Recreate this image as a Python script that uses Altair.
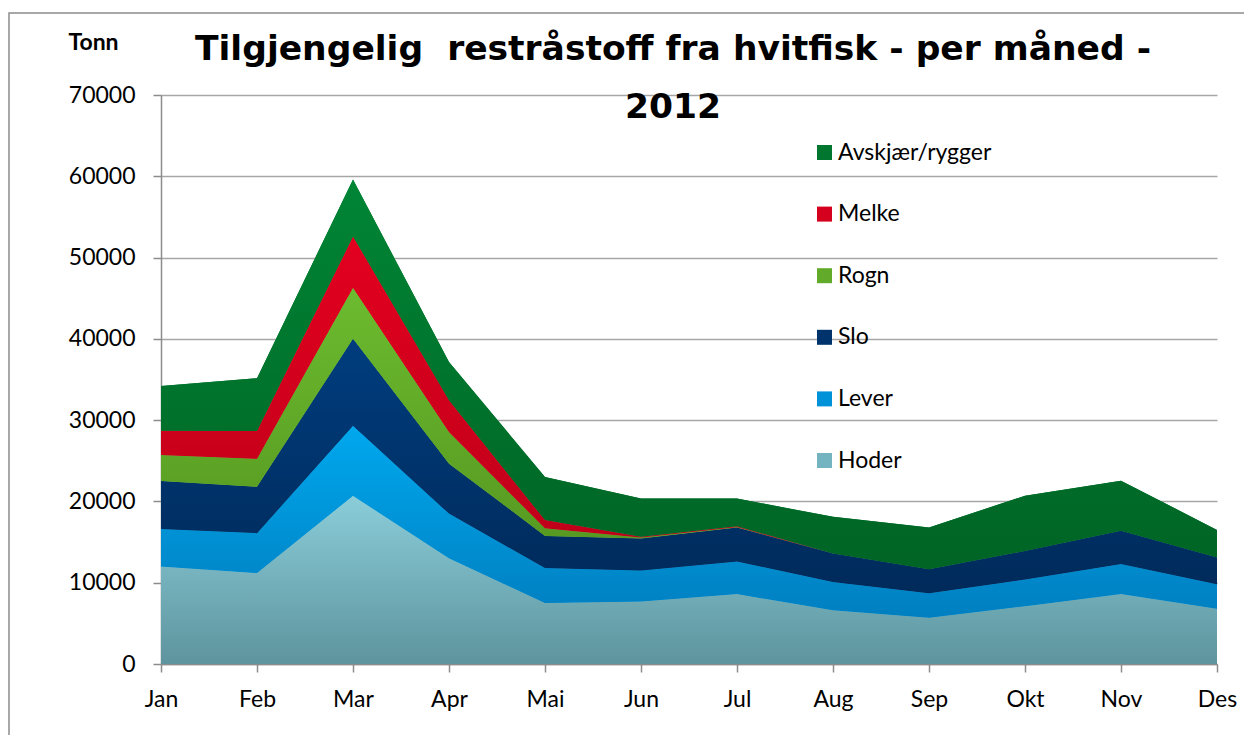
import altair as alt
import pandas as pd

months = ["Jan", "Feb", "Mar", "Apr", "Mai", "Jun", "Jul", "Aug", "Sep", "Okt", "Nov", "Des"]
series = ["Hoder", "Lever", "Slo", "Rogn", "Melke", "Avskjær/rygger"]  # stack order, bottom first
hoder = [12000, 11200, 20700, 13000, 7500, 7700, 8600, 6600, 5700, 7100, 8600, 6800]
lever = [4600, 4900, 8600, 5500, 4300, 3800, 4000, 3500, 3000, 3300, 3700, 3000]
slo = [5900, 5700, 10700, 6150, 3950, 3950, 4200, 3500, 2950, 3500, 4100, 3300]
rogn = [3200, 3450, 6300, 3900, 950, 100, 50, 0, 0, 0, 0, 0]
melke = [3000, 3400, 6300, 3900, 1000, 100, 100, 0, 0, 0, 0, 0]
avsk = [5500, 6500, 7000, 4700, 5300, 4700, 3400, 4500, 5150, 6800, 6150, 3400]
y_ticks = [0, 10000, 20000, 30000, 40000, 50000, 60000, 70000]

values = [hoder, lever, slo, rogn, melke, avsk]
solid = ["#74b3c0", "#0092d8", "#00336b", "#62aa29", "#d4001d", "#00762e"]
grad = [("#8acdd9", "#5e949e"), ("#00a8ee", "#007fc0"), ("#003d7e", "#002a5a"),
        ("#6cbb2f", "#559620"), ("#e3001f", "#bc0019"), ("#008535", "#006425")]

rows = []
for i, (s, vals) in enumerate(zip(series, values)):
    for m, v in zip(months, vals):
        rows.append({"month": m, "series": s, "value": v, "order": i})
df = pd.DataFrame(rows)

legend_order = series[::-1]
legend_colors = solid[::-1]

x_enc = alt.X("month:N", sort=months, scale=alt.Scale(padding=0), title=None,
              axis=alt.Axis(labelAngle=0, labelFontSize=23, labelFont="Lato", labelColor="#000",
                            tickSize=8, tickColor="#8c8c8c", tickWidth=1.5, domainColor="#8c8c8c",
                            domainWidth=1.5, labelPadding=16, grid=False))
y_scale = alt.Scale(domain=[0, 70000], nice=False)

base = alt.Chart(df).transform_stack(
    stack="value", groupby=["month"], as_=["y0", "y1"],
    sort=[alt.SortField("order", order="ascending")]
)

solid_layer = base.mark_area().encode(
    x=x_enc,
    y=alt.Y("y1:Q", scale=y_scale, title="Tonn",
            axis=alt.Axis(values=y_ticks, format="d", labelFontSize=23, labelFont="Lato",
                          labelColor="#000", tickSize=8, tickColor="#8c8c8c", tickWidth=1.5,
                          domainColor="#8c8c8c", domainWidth=1.5, labelPadding=18,
                          gridColor="#a6a6a6", gridWidth=1.5,
                          titleAngle=0, titleFont="Lato", titleFontSize=23, titleFontWeight="bold",
                          titleX=-68, titleY=-53, titleAlign="center", titleBaseline="middle",
                          titleColor="#000")),
    y2="y0:Q",
    color=alt.Color("series:N", scale=alt.Scale(domain=legend_order, range=legend_colors),
                    legend=alt.Legend(title=None, orient="none", legendX=652, legendY=46,
                                      symbolType="square", symbolSize=225, symbolStrokeWidth=0,
                                      labelFontSize=23, labelFont="Lato", labelColor="#000",
                                      rowPadding=37.6, labelOffset=2, padding=0)),
    order=alt.Order("order:Q"),
)

layers = [solid_layer]
for i, s in enumerate(series):
    top, bot = grad[i]
    g = alt.Gradient(gradient="linear", x1=0, y1=0, x2=0, y2=1,
                     stops=[alt.GradientStop(color=top, offset=0),
                            alt.GradientStop(color=bot, offset=1)])
    layers.append(
        base.transform_filter(alt.datum.series == s).mark_area(fill=g).encode(
            x=alt.X("month:N", sort=months), y=alt.Y("y1:Q", scale=y_scale), y2="y0:Q"
        )
    )

frame = alt.Chart(pd.DataFrame({"a": [0]})).mark_rect(
    fill=None, stroke="#8c8c8c", strokeWidth=1.5
).encode(x=alt.value(-152), y=alt.value(-82), x2=alt.value(1110), y2=alt.value(700))
layers.append(frame)

chart = alt.layer(*layers).properties(
    width=1056, height=569,
    title=alt.TitleParams(
        text=["Tilgjengelig\u00a0 restråstoff fra hvitfisk - per måned -", "2012"],
        font="DejaVu Sans", fontSize=34.5, fontWeight="bold", color="#000",
        anchor="middle", frame="group", dx=-16, offset=-113, lineHeight=58,
    ),
    autosize=alt.AutoSizeParams(type="none"),
    padding={"left": 153, "top": 87, "right": 27, "bottom": 71},
).configure_view(stroke=None).configure_axis(grid=True)

chart.save("out.html", embed_options={"renderer": "svg", "actions": False})
